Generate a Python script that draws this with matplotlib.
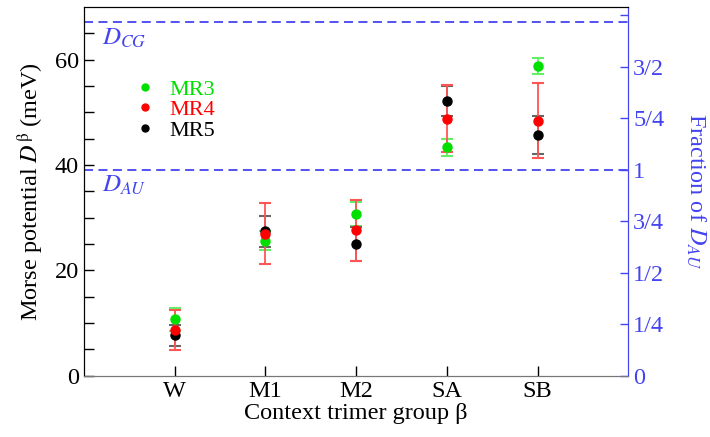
import matplotlib.pyplot as plt
from matplotlib.lines import Line2D
import numpy as np

plt.rcParams['font.family'] = 'Liberation Serif'
plt.rcParams['mathtext.fontset'] = 'stix'

groups = ['W', 'M1', 'M2', 'SA', 'SB']
mr3 = [10.7, 25.6, 30.7, 43.4, 58.8]
mr3_err = [2.1, 1.8, 2.3, 1.6, 1.6]
mr4 = [8.7, 27.0, 27.6, 48.8, 48.4]
mr4_err = [3.8, 5.8, 5.8, 6.3, 7.1]
mr5 = [7.7, 27.4, 25.0, 52.2, 45.7]
mr5_err = [2.0, 2.9, 3.2, 2.8, 3.6]
d_au = 39.1
d_cg = 67.1
frac_ticks = [0, 0.25, 0.5, 0.75, 1, 1.25, 1.5, 1.75]
frac_labels = ['0', '1/4', '1/2', '3/4', '1', '5/4', '3/2', '']

blue = '#4444f0'
green = '#00e000'
fs = 17.5
x = np.arange(1, len(groups) + 1)

fig = plt.figure(figsize=(7.1, 4.37), dpi=100)
ax = fig.add_axes([0.118, 0.14, 0.767, 0.844])

series = [(mr3, mr3_err, green, '#66ee66'),
          (mr5, mr5_err, 'black', '#666666'),
          (mr4, mr4_err, 'red', '#ff5555')]
for vals, err, col, ecol in series:
    ax.errorbar(x, vals, yerr=err, fmt='o', color=col, ms=6.5, ecolor=ecol,
                elinewidth=1.3, capsize=4, capthick=1.5, zorder=3)

ax.axhline(d_cg, color=blue, ls=(0, (5, 3)), lw=1.3)
ax.axhline(d_au, color=blue, ls=(0, (5, 3)), lw=1.3)
ax.text(0.2, d_cg - 0.8, r'$D_{CG}$', color=blue, fontsize=18, va='top')
ax.text(0.2, d_au - 0.8, r'$D_{AU}$', color=blue, fontsize=18, va='top')

ax.set_xlim(0, 6)
ax.set_ylim(0, 70)
ax.set_xticks(x)
ax.set_xticklabels(groups)
ax.set_yticks([0, 20, 40, 60])
ax.set_yticks(np.arange(0, 70, 5), minor=True)
ax.tick_params(axis='both', direction='in', labelsize=fs, length=7, width=1)
ax.tick_params(axis='y', which='minor', direction='in', length=7, width=1)
ax.tick_params(axis='x', which='minor', bottom=False)
ax.set_xlabel(u'Context trimer group \u03b2', fontsize=fs, labelpad=1)
ax.set_ylabel(r'Morse potential $D^{\mathrm{\beta}}$ (meV)', fontsize=fs,
              labelpad=6)
ax.spines['bottom'].set_color('#777777')
ax.spines['right'].set_color(blue)

ax2 = ax.twinx()
ax2.set_ylim(0, 70 / d_au)
ax2.set_yticks(frac_ticks)
ax2.set_yticklabels(frac_labels)
ax2.tick_params(axis='y', direction='in', labelsize=fs, length=6, width=1,
                colors=blue)
ax2.spines['right'].set_color(blue)
ax2.spines['bottom'].set_color('#777777')
ax2.set_ylabel(r'Fraction of $D_{AU}$', fontsize=fs, color=blue,
               rotation=270, labelpad=31)

handles = [Line2D([], [], ls='', marker='o', color=c, ms=5)
           for c in [green, 'red', 'black']]
ax.legend(handles, ['MR3', 'MR4', 'MR5'], loc='upper left',
          bbox_to_anchor=(0.08, 0.835), frameon=False, fontsize=16,
          labelcolor=[green, 'red', 'black'], handlelength=0.6,
          handletextpad=0.8, labelspacing=0.0, borderpad=0)

fig.savefig('out.png', dpi=100)
